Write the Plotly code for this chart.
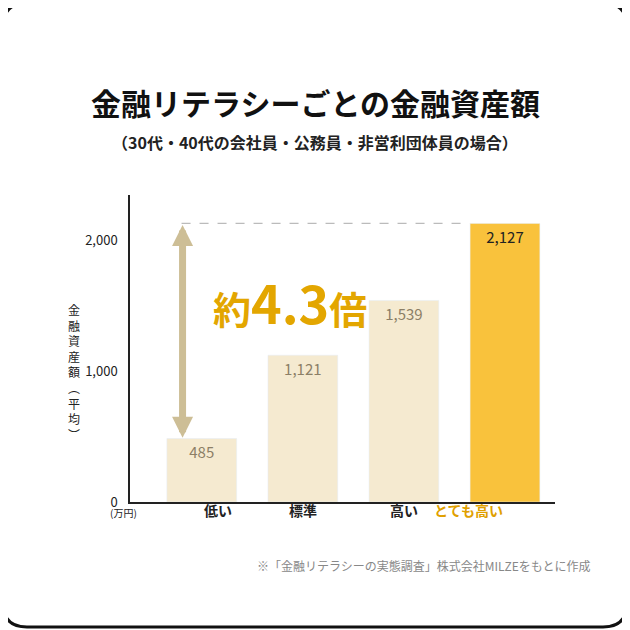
import plotly.graph_objects as go

categories = ["低い", "標準", "高い", "とても高い"]
values = [485, 1121, 1539, 2127]
value_labels = ["485", "1,121", "1,539", "2,127"]
tick_vals = [0, 1000, 2000]
tick_text = ["0", "1,000", "2,000"]

O = 8  # page body margin offset
W = 622
L, R, T, B = 130 - O, 555 - O, 195 - O, 502 - O
def px(x): return (x - O - L) / (R - L)
def py(y): return (B - (y - O)) / (B - T)

light, hi = "#F5EAD0", "#F9C23C"
colors = [light, light, light, hi]
tcolors = ["#8C7F66", "#8C7F66", "#8C7F66", "#222222"]
F = "Noto Sans CJK JP"

fig = go.Figure(go.Bar(x=list(range(4)), y=values, marker_color=colors, width=0.69,
    text=value_labels, textposition="inside", insidetextanchor="end",
    textfont=dict(size=15, color=tcolors, family=F), hoverinfo="skip"))

ann = []
def A(x, y, t, **k):
    ann.append(dict(x=px(x), y=py(y), xref="paper", yref="paper", text=t, showarrow=False, **k))
A(315, 78, "<b>金融リテラシーごとの金融資産額</b>", font=dict(size=30, color="#111", family=F))
A(315, 128, "<b>（30代・40代の会社員・公務員・非営利団体員の場合）</b>", font=dict(size=16, color="#222", family=F))
A(66, 372, "<br>".join(list("金融資産額")) + "<br>︵<br>平<br>均<br>︶", font=dict(size=12, color="#222", family=F))
A(108, 522, "(万円)", font=dict(size=10, color="#222", family=F))
for i, c in enumerate(categories):
    A(202 + 101 * i, 522, "<b>%s</b>" % c, font=dict(size=14, color="#E0A000" if i == 3 else "#222", family=F))
A(290, 262, "<b>約<span style='font-size:52px'>4.3</span>倍</b>", font=dict(size=38, color="#E3A600", family=F))
A(255, 576, "※「金融リテラシーの実態調査」株式会社MILZEをもとに作成", font=dict(size=12, color="#888", family=F))
ann.append(dict(x=-0.19, y=2115, ax=-0.19, ay=480, xref="x", yref="y", axref="x", ayref="y",
    showarrow=True, arrowhead=2, arrowside="end+start", arrowwidth=7, arrowsize=0.6,
    arrowcolor="#CDBE96", text=""))

x0, x1, y0, y1 = px(3), px(627), py(3), py(627)
rx, ry = 24 / (R - L), 24 / (B - T)
path = (f"M {x0+rx},{y0} L {x1-rx},{y0} Q {x1},{y0} {x1},{y0-ry} L {x1},{y1+ry} Q {x1},{y1} {x1-rx},{y1} "
        f"L {x0+rx},{y1} Q {x0},{y1} {x0},{y1+ry} L {x0},{y0-ry} Q {x0},{y0} {x0+rx},{y0} Z")
shapes = [dict(type="path", path=path, xref="paper", yref="paper", line=dict(color="#111", width=3)),
          dict(type="line", x0=-0.2, x1=2.65, y0=2127, y1=2127, xref="x", yref="y",
               line=dict(color="#BBBBBB", width=1.2, dash="dash"))]

fig.update_layout(width=W, height=W, margin=dict(l=L, r=W - R, t=T, b=W - B),
    paper_bgcolor="white", plot_bgcolor="white", showlegend=False, bargap=0.3,
    annotations=ann, shapes=shapes,
    xaxis=dict(range=[-0.71, 3.495], showticklabels=False, showgrid=False, zeroline=False,
               showline=True, linecolor="#222", linewidth=1.5, fixedrange=True),
    yaxis=dict(range=[0, 2344], tickvals=tick_vals, ticktext=tick_text, showgrid=False, zeroline=False,
               showline=True, linecolor="#222", linewidth=1.5, ticks="", ticklabelstandoff=8,
               tickfont=dict(size=13, color="#222", family=F)))
fig.write_html("out.html", config={"displayModeBar": False})
